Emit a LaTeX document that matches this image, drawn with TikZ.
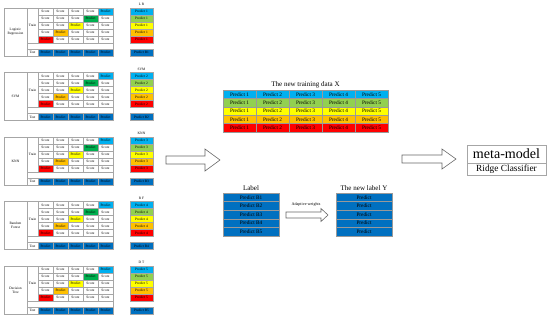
\documentclass[tikz,border=0pt]{standalone}
\usepackage{fontspec}
\setmainfont{Liberation Serif}
\usetikzlibrary{positioning}
\definecolor{skyblue}{HTML}{00B0F0}
\definecolor{dkgreen}{HTML}{00B050}
\definecolor{ltgreen}{HTML}{92D050}
\definecolor{gold}{HTML}{FFFF00}
\definecolor{amber}{HTML}{FFC000}
\definecolor{hotred}{HTML}{FF0000}
\definecolor{deepblue}{HTML}{0070C0}
\begin{document}
\begin{tikzpicture}[
    x=0.03cm, y=-0.03cm,
    every node/.style={inner sep=0pt, font=\fontsize{3}{3.6}\selectfont},
    cell/.style={rectangle, draw=gray!70, line width=0.25pt,
      minimum width=0.45cm, minimum height=0.21cm},
    side/.style={rectangle, draw=gray!70, line width=0.25pt, align=center},
    predcell/.style={rectangle, draw=gray!70, line width=0.25pt,
      minimum width=0.69cm, minimum height=0.21cm},
    xcell/.style={rectangle, draw=gray!80, line width=0.3pt,
      minimum width=0.99cm, minimum height=0.252cm,
      font=\fontsize{4.5}{5}\selectfont},
    lcell/.style={rectangle, draw=gray!80, line width=0.3pt, fill=deepblue,
      minimum width=1.68cm, minimum height=0.258cm,
      font=\fontsize{4.5}{5}\selectfont},
    title/.style={font=\fontsize{6}{7}\selectfont},
    hollow/.style={draw=gray!80!black, line width=0.5pt, fill=white}
]
\useasboundingbox (0,0) rectangle (550,322);
% base learners
\foreach \name/\abbr/\k [count=\i from 0] in {{Logistic\\Regression}/L R/1,
    SVM/SVM/2, KNN/KNN/3, {Random\\Forest}/R F/4, {Decision\\Tree}/D T/5} {
  \pgfmathsetmacro\yo{8+64.5*\i}
  \node[side, minimum width=0.69cm, minimum height=1.44cm] (b\k-lab) at (15.5,{\yo+24}) {\name};
  \node[side, minimum width=0.33cm, minimum height=1.05cm] (b\k-train) at (32.5,{\yo+17.5}) {Train};
  \node[side, minimum width=2.58cm, minimum height=0.18cm] (b\k-gap) at (70,{\yo+38}) {};
  \node[side, minimum width=0.33cm, minimum height=0.21cm] (b\k-test) at (32.5,{\yo+44.5}) {Test};
  \foreach \r/\rc/\pc in {1/skyblue/skyblue, 2/dkgreen/ltgreen, 3/gold/gold,
      4/amber/amber, 5/hotred/hotred} {
    \foreach \c in {1,...,5} {
      \pgfmathtruncatemacro\hit{\c==6-\r}
      \ifnum\hit=1
        \node[cell, fill=\rc] (b\k-r\r c\c) at ({38+15*(\c-0.5)},{\yo+7*(\r-0.5)}) {Predict};
      \else
        \node[cell] (b\k-r\r c\c) at ({38+15*(\c-0.5)},{\yo+7*(\r-0.5)}) {Score};
      \fi
    }
    \node[predcell, fill=\pc] (b\k-p\r) at (141.5,{\yo+7*(\r-0.5)}) {Predict \k};
  }
  \foreach \c in {1,...,5}
    \node[cell, fill=deepblue] (b\k-t\c) at ({38+15*(\c-0.5)},{\yo+44.5}) {Predict};
  \node[predcell, fill=deepblue] (b\k-pb) at (141.5,{\yo+44.5}) {Predict B\k};
  \node[above=0.05cm of b\k-p1] (b\k-name) {\abbr};
}
% new training data
\foreach \r/\rc in {1/skyblue, 2/ltgreen, 3/gold, 4/amber, 5/hotred}
  \foreach \c in {1,...,5}
    \node[xcell, fill=\rc] (x\r\c) at ({223+33*(\c-0.5)},{90+8.4*(\r-0.5)}) {Predict \c};
\node[title, above=0.06cm of x13] (xtitle) {The new training data X};
% labels
\foreach \r in {1,...,5} {
  \node[lcell] (lab\r) at (251,{193+8.6*(\r-0.5)}) {Predict B\r};
  \node[lcell] (ny\r) at (364,{193+8.6*(\r-0.5)}) {Predict};
}
\node[title, above=0.06cm of lab1] (labtitle) {Label};
\node[title, above=0.06cm of ny1] (nytitle) {The new label Y};
% meta-model
\node[rectangle, draw=gray!70, line width=0.4pt, minimum width=2.37cm,
  minimum height=0.54cm, font=\fontsize{12}{13}\selectfont] (meta) at (506.5,154) {meta-model};
\node[rectangle, draw=gray!70, line width=0.4pt, minimum width=2.37cm,
  minimum height=0.36cm, font=\fontsize{8}{9}\selectfont, below=0pt of meta] (ridge) {Ridge Classifier};
% block arrows
\draw[hollow] (166,156) -- (205,156) -- (205,149) -- (220,160) -- (205,171)
  -- (205,164) -- (166,164) -- cycle;
\draw[hollow] (402,155) -- (442,155) -- (442,149) -- (456,159) -- (442,169)
  -- (442,163) -- (402,163) -- cycle;
\draw[hollow] (286,212) -- (321,212) -- (321,208.5) -- (328,215) -- (321,221.5)
  -- (321,218) -- (286,218) -- cycle;
\node[font=\fontsize{3.5}{4}\selectfont] (adapt) at (306,205) {Adaptive weights};
\end{tikzpicture}
\end{document}
